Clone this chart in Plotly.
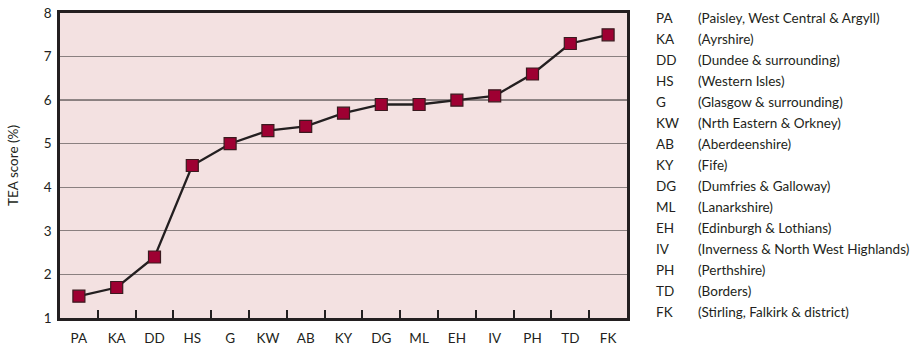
import plotly.graph_objects as go

# TEA scores by postcode area (sorted ascending)
codes = ["PA", "KA", "DD", "HS", "G", "KW", "AB", "KY", "DG", "ML", "EH", "IV", "PH", "TD", "FK"]
tea_scores = [1.5, 1.7, 2.4, 4.5, 5.0, 5.3, 5.4, 5.7, 5.9, 5.9, 6.0, 6.1, 6.6, 7.3, 7.5]
area_names = [
    "(Paisley, West Central & Argyll)",
    "(Ayrshire)",
    "(Dundee & surrounding)",
    "(Western Isles)",
    "(Glasgow & surrounding)",
    "(Nrth Eastern & Orkney)",
    "(Aberdeenshire)",
    "(Fife)",
    "(Dumfries & Galloway)",
    "(Lanarkshire)",
    "(Edinburgh & Lothians)",
    "(Inverness & North West Highlands)",
    "(Perthshire)",
    "(Borders)",
    "(Stirling, Falkirk & district)",
]
y_ticks = [1, 2, 3, 4, 5, 6, 7, 8]

FONT = "Lato, 'Open Sans', sans-serif"
INK = "#231f20"

fig = go.Figure()

fig.add_trace(go.Scatter(
    x=codes,
    y=tea_scores,
    mode="lines+markers",
    line=dict(color=INK, width=2.3),
    marker=dict(symbol="square", size=12, color="#9e0032",
                line=dict(color="#3a1a1f", width=1.2)),
    showlegend=False,
    hoverinfo="x+y",
))

# Heavier reference line at 6%
fig.add_shape(type="line", xref="paper", yref="y", x0=0, x1=1, y0=6, y1=6,
              line=dict(color="#2a2a2a", width=1.3), layer="below")

# Key of postcode areas, placed to the right of the plotting area
key_top = 0.984
row_h = 0.0689
for i, (c, n) in enumerate(zip(codes, area_names)):
    yy = key_top - i * row_h
    fig.add_annotation(xref="paper", yref="paper", x=1.048, y=yy, text=c,
                       showarrow=False, xanchor="left", yanchor="middle",
                       font=dict(family=FONT, size=13.5, color=INK))
    fig.add_annotation(xref="paper", yref="paper", x=1.121, y=yy, text=n,
                       showarrow=False, xanchor="left", yanchor="middle",
                       font=dict(family=FONT, size=13.5, color=INK))

fig.update_layout(
    width=915, height=345,
    margin=dict(l=60, r=288, t=13, b=27),
    paper_bgcolor="white",
    plot_bgcolor="#f3e1e1",
    font=dict(family=FONT, size=13.5, color=INK),
    xaxis=dict(
        type="category",
        range=[-0.5, 14.5],
        automargin=False,
        showgrid=False,
        tickson="boundaries",
        ticks="inside",
        ticklen=8,
        tickwidth=2,
        tickcolor=INK,
        showline=True, linecolor=INK, linewidth=2.5, mirror=True,
        tickfont=dict(size=13.5),
        ticklabelstandoff=6,
        zeroline=False,
    ),
    yaxis=dict(
        range=[1, 8],
        automargin=False,
        tickvals=y_ticks,
        showgrid=True, gridcolor="#8a8080", gridwidth=1.2,
        ticks="",
        showline=True, linecolor=INK, linewidth=2.5, mirror=True,
        title=dict(text="TEA score (%)", font=dict(size=13.5), standoff=22),
        tickfont=dict(size=13.5),
        ticklabelstandoff=3,
        zeroline=False,
    ),
)

fig.write_html("out.html")
